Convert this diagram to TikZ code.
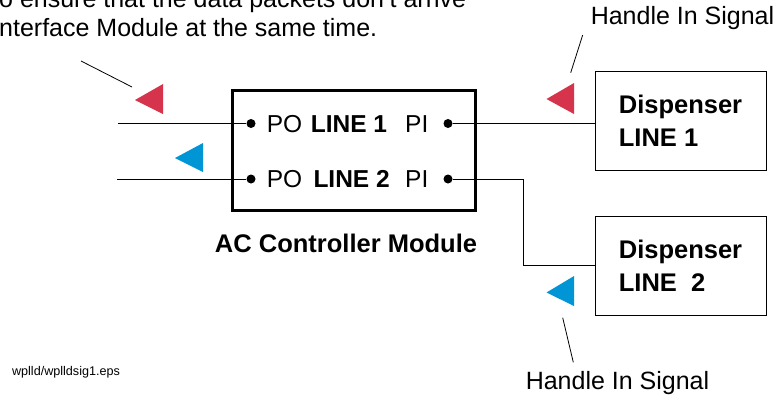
\documentclass[tikz,border=0pt]{standalone}
\usepackage{fontspec}
\setmainfont{Liberation Sans}
\usepackage{xcolor}
\usetikzlibrary{positioning,calc}
\definecolor{sigred}{RGB}{214,52,76}
\definecolor{sigblue}{RGB}{0,150,214}
\tikzset{
ctrlbox/.style={
draw,
line width=3pt,
minimum width=243pt,
minimum height=120pt
},
dispbox/.style={
draw,
line width=0.9pt,
minimum width=171pt,
minimum height=99pt,
align=left,
font=\fontsize{25.5}{33}\selectfont\bfseries
},
port/.style={
circle,
fill,
inner sep=0pt,
minimum size=9pt
},
lbl/.style={
inner sep=0pt,
anchor=base west,
font=\fontsize{24.5}{29}\selectfont
},
note/.style={
inner sep=0pt,
font=\fontsize{25}{30}\selectfont
},
wire/.style={
line width=0.9pt
},
leader/.style={
line width=0.8pt
}
}

\begin{document}
\begin{tikzpicture}[x=1pt,y=-1pt]
\useasboundingbox (0,0) rectangle (780,402);

% note at top, cut by the page edge
\node[note,anchor=base west](top1) at (-1,7){o ensure that the data packets don't arrive};
\node[note,anchor=base west](top2) at (-1,36){nterface Module at the same time.};

% controller
\node[ctrlbox](ac) at (353.5,150){};
\node[font=\fontsize{25.5}{30}\selectfont\bfseries,inner sep=0pt](acl) at (346,243){AC Controller Module};

\foreach \r/\y/\lx in {1/123.5/310.7,2/179/313.3}{
\node[port](po\r) at (251,\y){};
\node[port](pi\r) at (448,\y){};
\node[lbl] at (266.7,\y+8.6){PO};
\node[lbl] at (\lx,\y+8.6){\bfseries LINE \r};
\node[lbl] at (405,\y+8.6){PI};
}

% dispensers
\node[dispbox](d1) at (680.5,121){Dispenser\\LINE 1};
\node[dispbox](d2) at (680.5,265.5){Dispenser\\LINE\ \ 2};

\coordinate (in1) at (118,123.5);
\coordinate (in2) at (117,179);
\draw[wire](in1)--(po1);
\draw[wire](in2)--(po2);
\draw[wire](pi1)--(pi1-|d1.west);
\draw[wire](pi2)--++(75,0)|-(d2.west);

% signal marks
\fill[sigred](135,100)--(163,84)--(163,114)--cycle;
\fill[sigblue](175,158)--(203,143)--(203,172)--cycle;
\fill[sigred](546.5,99)--(574,83)--(574,114)--cycle;
\fill[sigblue](546.5,292.5)--(574,276)--(574,306)--cycle;

\node[note](hs1) at (682.5,18){Handle In Signal};
\node[note](hs2) at (617.5,383){Handle In Signal};
\node[inner sep=0pt,font=\fontsize{12.6}{15}\selectfont](eps) at (66,372){wplld/wplldsig1.eps};

\coordinate (p1a) at (81,61);
\coordinate (p1b) at (132,87);
\coordinate (p2a) at (582.7,35);
\coordinate (p2b) at (570.7,72.7);
\coordinate (p3a) at (562.7,317.7);
\coordinate (p3b) at (573.3,362.3);
\draw[leader](p1a)--(p1b);
\draw[leader](p2a)--(p2b);
\draw[leader](p3a)--(p3b);
\end{tikzpicture}
\end{document}
